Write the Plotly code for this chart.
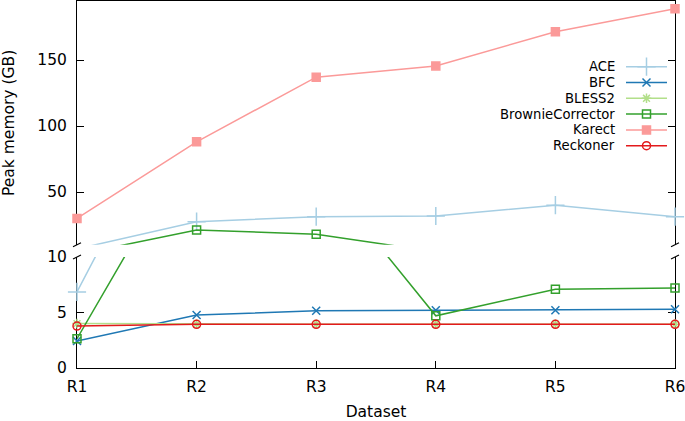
import plotly.graph_objects as go

datasets = ["R1", "R2", "R3", "R4", "R5", "R6"]
ace = [6.85, 27.5, 31.3, 31.8, 40.0, 31.3]
bfc = [2.43, 4.77, 5.16, 5.2, 5.2, 5.3]
bless2 = [4.0, 3.95, 3.95, 3.95, 3.95, 3.95]
brownie = [2.64, 21.2, 18.0, 4.7, 7.1, 7.2]
karect = [30.0, 88.0, 137.0, 145.5, 171.4, 188.9]
reckoner = [3.78, 3.94, 3.94, 3.94, 3.94, 3.94]

series_names = ["ACE", "BFC", "BLESS2", "BrownieCorrector", "Karect", "Reckoner"]
series_values = [ace, bfc, bless2, brownie, karect, reckoner]
colors = ["#a6cee3", "#1f78b4", "#b2df8a", "#33a02c", "#fb9a99", "#e31a1c"]
symbols = ["cross-thin", "x-thin", "asterisk", "square-open", "square", "circle-open"]
sizes = [13, 8, 8, 8, 8, 8]

FONT = "DejaVu Sans"
fig = go.Figure()

for name, vals, col, sym, sz in zip(series_names, series_values, colors, symbols, sizes):
    mk = dict(symbol=sym, size=sz, color=col, line=dict(color=col, width=1.5))
    for xa, ya in (("x", "y"), ("x2", "y2")):
        fig.add_trace(go.Scatter(
            x=datasets, y=vals, mode="lines+markers", name=name,
            line=dict(color=col, width=1.5), marker=mk,
            xaxis=xa, yaxis=ya, cliponaxis=False, showlegend=False,
            hoverinfo="x+y+name"))

# custom gnuplot-style key (text on left, sample on right)
for i, (name, col, sym, sz) in enumerate(zip(series_names, colors, symbols, sizes)):
    mk = dict(symbol=sym, size=sz, color=col, line=dict(color=col, width=1.5))
    fig.add_trace(go.Scatter(
        x=[0, 0.5, 1], y=[i, i, i], mode="lines+markers",
        line=dict(color=col, width=1.5), marker=mk,
        selectedpoints=[1], selected=dict(marker=dict(opacity=1)),
        unselected=dict(marker=dict(opacity=0)),
        xaxis="x3", yaxis="y3", showlegend=False, hoverinfo="skip", cliponaxis=False))
    fig.add_annotation(text=name, xref="paper", yref="y3", x=0.903, y=i,
                       xanchor="right", yanchor="middle", showarrow=False,
                       font=dict(family=FONT, size=13.2, color="black"))

H_PLOT = 367.0
def pfrac(px):
    return (368.0 - px) / H_PLOT

bot_top = pfrac(257)
top_bot = pfrac(244.8)

axis_common = dict(showline=True, linecolor="black", linewidth=1, ticks="inside",
                   ticklen=7, tickcolor="black", tickwidth=1, showgrid=False,
                   zeroline=False, layer="below traces", automargin=False,
                   tickfont=dict(family=FONT, size=15.5, color="black"))

fig.update_layout(
    width=685, height=421,
    margin=dict(l=77, r=10, t=1, b=53),
    paper_bgcolor="white", plot_bgcolor="white",
    showlegend=False,
    xaxis=dict(axis_common, domain=[0, 1], anchor="y", type="category",
               range=[0, 5], ticklabelstandoff=4,
               title=dict(text="Dataset", standoff=16,
                          font=dict(family=FONT, size=15.5, color="black"))),
    xaxis2=dict(showline=True, linecolor="black", linewidth=1, matches="x",
                anchor="y2", side="top", showticklabels=False, ticks="",
                showgrid=False, zeroline=False, type="category", range=[0, 5],
                automargin=False),
    yaxis=dict(axis_common, domain=[0, bot_top], range=[0, 10],
               tickvals=[0, 5, 10], mirror="ticks", anchor="x",
               ticklabelstandoff=6),
    yaxis2=dict(axis_common, domain=[top_bot, 1], range=[10, 194.7],
                tickvals=[50, 100, 150], mirror="ticks", anchor="x2",
                ticklabelstandoff=6,
                title=dict(text="Peak memory (GB)", standoff=19,
                           font=dict(family=FONT, size=15.5, color="black"))),
    xaxis3=dict(domain=[(626 - 77) / 598, (667 - 77) / 598], range=[0, 1],
                visible=False, anchor="y3", automargin=False),
    yaxis3=dict(domain=[pfrac(66.7 + 5.5 * 15.8), pfrac(66.7 - 0.5 * 15.8)],
                range=[5.5, -0.5], visible=False, anchor="x3", automargin=False),
)

# axis break marks
for xa in (0, 1):
    for ya in (top_bot, bot_top):
        fig.add_shape(type="line", xref="paper", yref="paper",
                      xsizemode="pixel", ysizemode="pixel",
                      xanchor=xa, yanchor=ya, x0=-4, x1=4, y0=-2, y1=2,
                      line=dict(color="black", width=1.2))

fig.write_html("out.html", config={"displayModeBar": False},
               post_script="document.body.style.margin='0px';document.body.style.overflow='hidden';")
